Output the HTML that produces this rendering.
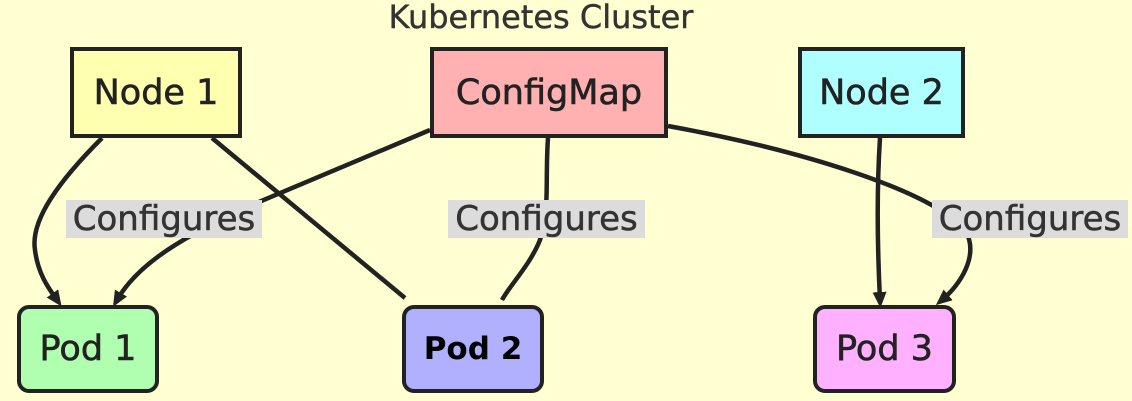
<!DOCTYPE html>
<html><head><style>
body{margin:0;background:#ffffd2;width:1132px;height:401px;overflow:hidden;position:relative;font-family:"DejaVu Sans","Liberation Sans",sans-serif;color:#222}
.b{position:absolute;box-sizing:border-box;border:4px solid #222;display:flex;align-items:center;justify-content:center;font-size:35px;-webkit-text-stroke:0.6px #222}
.p{border-radius:12px}
.l{position:absolute;background:#dcdcdc;font-size:34px;height:38px;line-height:38px;text-align:center;color:#333;white-space:nowrap;-webkit-text-stroke:0.5px #333}
</style></head><body>
<svg width="1132" height="401" style="position:absolute;left:0;top:0" fill="none" stroke="#222" stroke-width="4.5">
<defs><marker id="a" markerWidth="16" markerHeight="16" refX="8" refY="8" orient="auto" markerUnits="userSpaceOnUse"><path d="M0,1 L16,8 L0,15 z" fill="#222" stroke="none"/></marker></defs>
<path d="M102,138 C60,180 30,220 35,250 C38,275 50,290 57,300" marker-end="url(#a)"/>
<path d="M430,130 L240,210 C190,235 140,260 117,300" marker-end="url(#a)"/>
<path d="M212,138 L405,298"/>
<path d="M548,138 C545,180 550,210 540,240 C530,265 510,285 502,300"/>
<path d="M668,126 C800,150 930,190 965,230 C980,255 960,285 942,300" marker-end="url(#a)"/>
<path d="M880,138 C876,200 878,260 880,300" marker-end="url(#a)"/>
</svg>
<div style="position:absolute;left:0;width:1082px;top:-2px;text-align:center;font-size:32px;color:#333;-webkit-text-stroke:0.4px #333">Kubernetes Cluster</div>
<div class="b" style="left:70px;top:47px;width:172px;height:91px;background:#ffffb0">Node 1</div>
<div class="b" style="left:430px;top:47px;width:238px;height:91px;background:#ffb0b0">ConfigMap</div>
<div class="b" style="left:798px;top:47px;width:167px;height:91px;background:#b0ffff">Node 2</div>
<div class="l" style="left:66px;top:200px;width:196px">Configures</div>
<div class="l" style="left:448px;top:200px;width:197px">Configures</div>
<div class="l" style="left:932px;top:200px;width:196px">Configures</div>
<div class="b p" style="left:17px;top:305px;width:142px;height:88px;background:#b0ffb0">Pod 1</div>
<div class="b p" style="left:402px;top:305px;width:142px;height:88px;background:#b0b0ff;font-weight:bold;color:#000;font-size:31px;-webkit-text-stroke:0">Pod 2</div>
<div class="b p" style="left:813px;top:305px;width:143px;height:88px;background:#ffb0ff">Pod 3</div>
</body></html>
